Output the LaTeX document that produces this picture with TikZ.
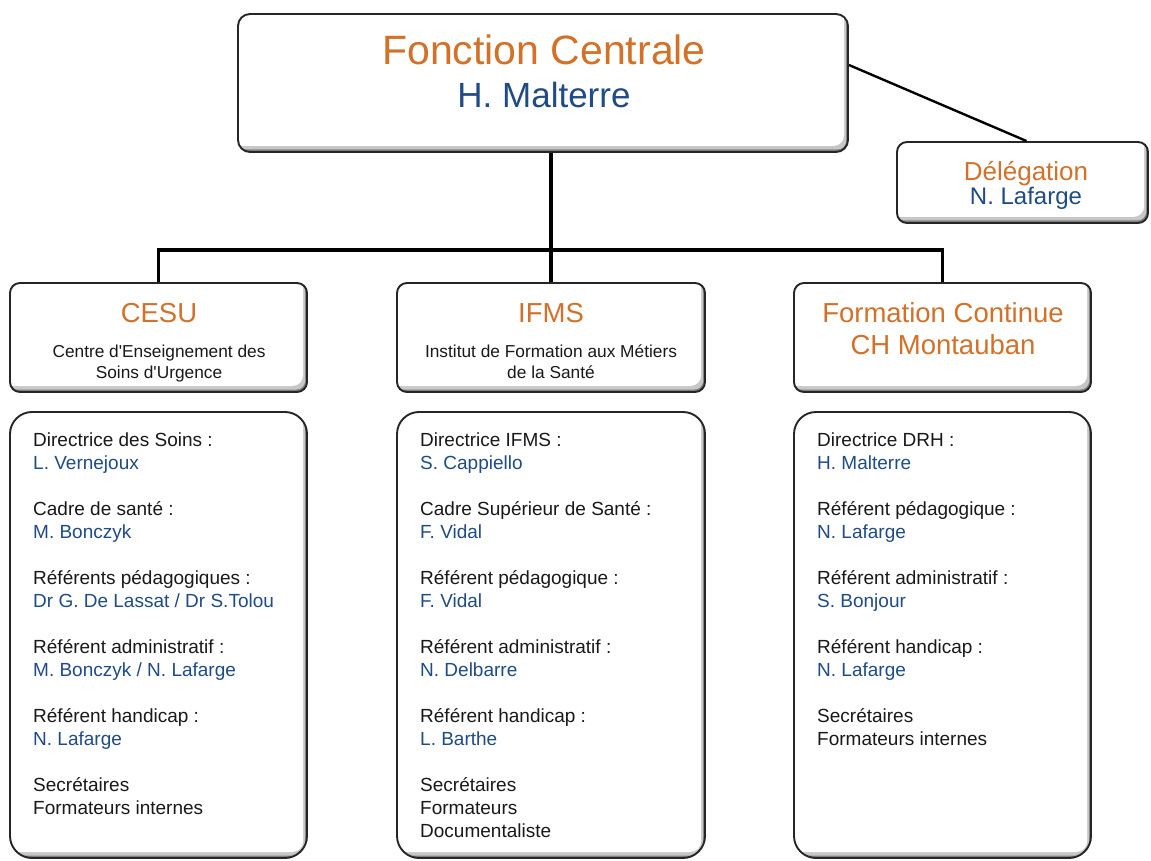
\documentclass[tikz,border=0pt]{standalone}
\usepackage{fontspec}
\setmainfont{Liberation Sans}
\usetikzlibrary{positioning}

\definecolor{titleorange}{RGB}{211,113,40}
\definecolor{nameblue}{RGB}{31,75,135}
\definecolor{textdark}{RGB}{25,25,25}

\newcommand{\fsz}[2]{\fontsize{#1}{#2}\selectfont}
\newcommand{\who}[1]{\textcolor{nameblue}{#1}}
\newcommand{\q}{\textquotesingle}

\begin{document}
\begin{tikzpicture}[x=1pt,y=-1pt]
    \tikzstyle{orgbox}=[draw=black!85, line width=1.9pt, fill=white, inner sep=0pt, rounded corners=10pt,
        path picture={
            \fill[black!50] (path picture bounding box.south west) rectangle (path picture bounding box.north east);
            \fill[black!22, rounded corners=9pt] ([xshift=-8pt,yshift=2.5pt]path picture bounding box.south west) rectangle ([xshift=-1.8pt,yshift=8pt]path picture bounding box.north east);
            \fill[white, rounded corners=11pt] ([xshift=-8pt,yshift=6pt]path picture bounding box.south west) rectangle ([xshift=-3.8pt,yshift=8pt]path picture bounding box.north east);
        }]
    \tikzstyle{headbox}=[orgbox, minimum width=297pt, minimum height=109pt]
    \tikzstyle{listbox}=[orgbox, rounded corners=22pt, minimum width=297pt, minimum height=446pt]
    \tikzstyle{headtext}=[align=center, inner sep=0pt]
    \tikzstyle{listtext}=[align=left, inner sep=0pt, anchor=north west, text=textdark, font=\fsz{19}{23}]
    \tikzstyle{link}=[draw=black, line width=3.6pt]
    \tikzstyle{thinlink}=[draw=black, line width=2.4pt]

    \useasboundingbox (0,0) rectangle (1151,861);

    % Top of the chart
    \node[orgbox, rounded corners=12pt, minimum width=610pt, minimum height=138pt] (central) at (543,83) {};
    \node[headtext, font=\fsz{35}{43}] (centraltxt) at (544,71.5)
        {{\fsz{41}{43}\color{titleorange}Fonction Centrale}\\{\color{nameblue}H. Malterre}};

    \node[orgbox, minimum width=251pt, minimum height=81pt] (deleg) at (1022.5,182.5) {};
    \node[headtext, font=\fsz{24}{24}] (delegtxt) at (1026,185)
        {{\fsz{26}{24}\color{titleorange}Délégation}\\{\color{nameblue}N. Lafarge}};

    % Second level
    \node[headbox] (cesu) at (158.5,337.5) {};
    \node[headtext, font=\fsz{17.3}{21}, text=textdark] (cesutxt) at (159,343)
        {{\fsz{27.5}{21}\color{titleorange}CESU}\\[14pt]Centre d\q Enseignement des\\Soins d\q Urgence};

    \node[headbox, minimum width=308pt] (ifms) at (551,337.5) {};
    \node[headtext, font=\fsz{17.3}{21}, text=textdark] (ifmstxt) at (551,341)
        {{\fsz{27.5}{21}\color{titleorange}IFMS}\\[14pt]Institut de Formation aux Métiers\\de la Santé};

    \node[headbox] (fc) at (942.5,337.5) {};
    \node[headtext, font=\fsz{27.5}{32}, text=titleorange] (fctxt) at (943,329)
        {Formation Continue\\CH Montauban};

    % Staff of each service
    \node[listbox] (cesuL) at (158.5,635) {};
    \node[listtext] (cesuT) at (33,433)
        {Directrice des Soins :\\\who{L. Vernejoux}\\[23pt]
         Cadre de santé :\\\who{M. Bonczyk}\\[23pt]
         Référents pédagogiques :\\\who{Dr G. De Lassat / Dr S.Tolou}\\[23pt]
         Référent administratif :\\\who{M. Bonczyk / N. Lafarge}\\[23pt]
         Référent handicap :\\\who{N. Lafarge}\\[23pt]
         Secrétaires\\Formateurs internes};

    \node[listbox, minimum width=308pt] (ifmsL) at (551,635) {};
    \node[listtext] (ifmsT) at (420,433)
        {Directrice IFMS :\\\who{S. Cappiello}\\[23pt]
         Cadre Supérieur de Santé :\\\who{F. Vidal}\\[23pt]
         Référent pédagogique :\\\who{F. Vidal}\\[23pt]
         Référent administratif :\\\who{N. Delbarre}\\[23pt]
         Référent handicap :\\\who{L. Barthe}\\[23pt]
         Secrétaires\\Formateurs\\Documentaliste};

    \node[listbox] (fcL) at (942.5,635) {};
    \node[listtext] (fcT) at (817,433)
        {Directrice DRH :\\\who{H. Malterre}\\[23pt]
         Référent pédagogique :\\\who{N. Lafarge}\\[23pt]
         Référent administratif :\\\who{S. Bonjour}\\[23pt]
         Référent handicap :\\\who{N. Lafarge}\\[23pt]
         Secrétaires\\Formateurs internes};

    % Connect the levels
    \draw[link] (ifms.north) -- (ifms.north |- central.south);
    \draw[link] (cesu.north) -- ++(0,-32) -| (fc.north);
    \draw[thinlink] ([yshift=18pt]central.east) -- ([xshift=4pt]deleg.north);
\end{tikzpicture}
\end{document}
